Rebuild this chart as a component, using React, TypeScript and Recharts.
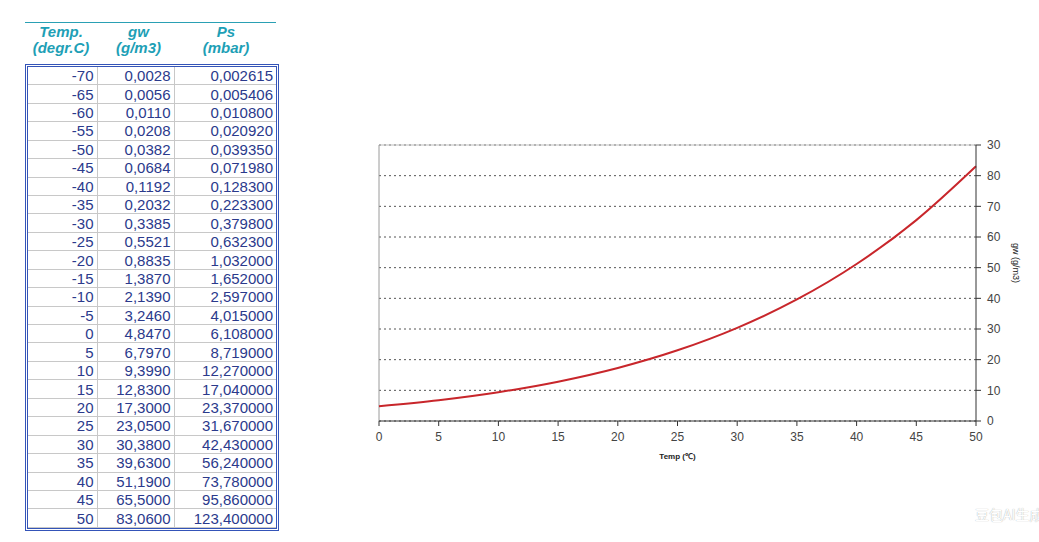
import { LineChart, Line, XAxis, YAxis, CartesianGrid, ReferenceLine } from 'recharts';

// table values, as printed
const tempRows = ['-70', '-65', '-60', '-55', '-50', '-45', '-40', '-35', '-30', '-25', '-20', '-15', '-10', '-5', '0', '5', '10', '15', '20', '25', '30', '35', '40', '45', '50'];
const gwRows = ['0,0028', '0,0056', '0,0110', '0,0208', '0,0382', '0,0684', '0,1192', '0,2032', '0,3385', '0,5521', '0,8835', '1,3870', '2,1390', '3,2460', '4,8470', '6,7970', '9,3990', '12,8300', '17,3000', '23,0500', '30,3800', '39,6300', '51,1900', '65,5000', '83,0600'];
const psRows = ['0,002615', '0,005406', '0,010800', '0,020920', '0,039350', '0,071980', '0,128300', '0,223300', '0,379800', '0,632300', '1,032000', '1,652000', '2,597000', '4,015000', '6,108000', '8,719000', '12,270000', '17,040000', '23,370000', '31,670000', '42,430000', '56,240000', '73,780000', '95,860000', '123,400000'];

// chart series (0..50 °C)
const chartTemps = [0, 5, 10, 15, 20, 25, 30, 35, 40, 45, 50];
const chartGw = [4.847, 6.797, 9.399, 12.83, 17.3, 23.05, 30.38, 39.63, 51.19, 65.5, 83.06];

const xTicks = [0, 5, 10, 15, 20, 25, 30, 35, 40, 45, 50];
const yTicks = [0, 10, 20, 30, 40, 50, 60, 70, 80, 90];
const yTickLabels = ['0', '10', '20', '30', '40', '50', '60', '70', '80', '30'];

const chartData = chartTemps.map((t, i) => ({ t, gw: chartGw[i] }));

const headCls: React.CSSProperties = {
    position: 'absolute',
    top: 24,
    textAlign: 'center',
    color: '#1e9fb6',
    fontFamily: 'Arial, "Liberation Sans", sans-serif',
    fontStyle: 'italic',
    fontWeight: 'bold',
    fontSize: 15,
    lineHeight: '16px',
};

const cell: React.CSSProperties = {
    borderBottom: '1px solid #c8c8c8',
    borderRight: '1px solid #c8c8c8',
    textAlign: 'right',
    padding: '0 3px 0 0',
    lineHeight: '15px',
};

export default function App() {
    return (
        <div style={{ position: 'absolute', left: 0, top: 0, width: 1039, height: 542, background: '#fff', overflow: 'hidden' }}>
            <div style={{ position: 'absolute', left: 25, top: 22, width: 251, borderTop: '1px solid #2aa0b4' }} />
            <div style={{ ...headCls, left: 25, width: 72 }}>Temp.<br />(degr.C)</div>
            <div style={{ ...headCls, left: 100, width: 77 }}>gw<br />(g/m3)</div>
            <div style={{ ...headCls, left: 176, width: 100 }}>Ps<br />(mbar)</div>

            <div style={{ position: 'absolute', left: 25, top: 64, width: 248, height: 461, border: '3px double #3454b8' }}>
                <table style={{ borderCollapse: 'collapse', width: '100%', height: '100%', fontFamily: 'Arial, "Liberation Sans", sans-serif', fontSize: 15, color: '#2b3a8c' }}>
                    <colgroup>
                        <col style={{ width: 69 }} />
                        <col style={{ width: 77 }} />
                        <col />
                    </colgroup>
                    <tbody>
                        {tempRows.map((t, i) => (
                            <tr key={t}>
                                <td style={cell}>{t}</td>
                                <td style={cell}>{gwRows[i]}</td>
                                <td style={{ ...cell, borderRight: 'none' }}>{psRows[i]}</td>
                            </tr>
                        ))}
                    </tbody>
                </table>
            </div>

            <div style={{ position: 'absolute', left: 0, top: 0 }}>
                <LineChart width={1039} height={542} data={chartData} margin={{ top: 145, right: 13, left: 379, bottom: 81 }}>
                    <CartesianGrid vertical={false} strokeDasharray="2 3" stroke="#555" />
                    <ReferenceLine y={90} stroke="#bdbdbd" />
                    <ReferenceLine x={0} stroke="#9a9a9a" />
                    <XAxis
                        dataKey="t"
                        type="number"
                        domain={[0, 50]}
                        ticks={xTicks}
                        stroke="#333"
                        tickSize={5}
                        tickMargin={6}
                        tick={{ fill: '#444', fontSize: 12, fontFamily: 'Arial, sans-serif' }}
                        height={40}
                        label={{ value: 'Temp (℃)', position: 'insideBottom', offset: 2, fontSize: 8, fontWeight: 'bold', fill: '#222', fontFamily: 'Arial, sans-serif' }}
                    />
                    <YAxis
                        orientation="right"
                        domain={[0, 90]}
                        ticks={yTicks}
                        width={50}
                        stroke="#333"
                        tickSize={5}
                        tickMargin={6}
                        tickFormatter={(v: number) => yTickLabels[yTicks.indexOf(v)]}
                        tick={{ fill: '#444', fontSize: 12, fontFamily: 'Arial, sans-serif', textAnchor: 'start' }}
                        label={{ value: 'gw (g/m3)', angle: 90, position: 'insideRight', offset: 10, fontSize: 9, fill: '#222', fontFamily: 'Arial, sans-serif' }}
                    />
                    <Line type="monotone" dataKey="gw" stroke="#c8262b" strokeWidth={2} dot={false} isAnimationActive={false} />
                </LineChart>
            </div>

            <div style={{ position: 'absolute', left: 975, top: 504, fontFamily: '"Noto Sans CJK SC", sans-serif', fontSize: 14, color: '#fff', textShadow: '0 0 1px #999', whiteSpace: 'nowrap' }}>豆包AI生成</div>
        </div>
    );
}
